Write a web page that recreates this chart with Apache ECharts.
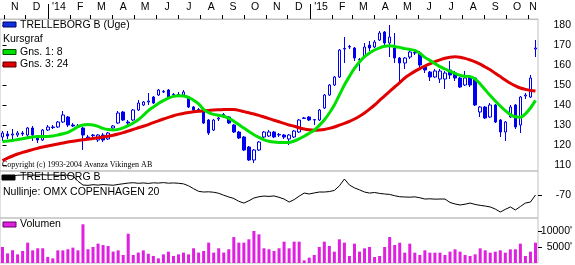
<!DOCTYPE html>
<html><head><meta charset="utf-8">
<script src="https://cdn.jsdelivr.net/npm/echarts@6/dist/echarts.min.js"></script>
<style>html,body{margin:0;padding:0;background:#fff}#c{width:575px;height:265px}</style>
</head><body><div id="c"></div>
<script>
// ---------- data ----------
const DAY = 86400000;
const firstMonday = Date.UTC(2013, 9, 28);
const weekCount = 107;
const weeks = Array.from({length: weekCount}, (_, i) => new Date(firstMonday + i * 7 * DAY).toISOString().slice(0, 10));

const monthLetters = ['J','F','M','A','M','J','J','A','S','O','N','D'];
const priceTicks = [110, 120, 130, 140, 150, 160, 170, 180];
const relTicks = [-70];
const volTicks = [5000, 10000];

const opens = [124,125.5,125,125,126,125,128.5,123.5,122.5,127.5,129,129,131.5,134,130,129.5,128.5,124,125,122.5,
125,123,128.5,131,136.5,131.5,132.5,137.5,140,141.5,144,145,146.5,147.5,145,145.3,145,144,139,137.7,
137.5,132.5,127.5,133,135,134,130,126.5,124,119,112.5,117.5,124,124.5,126.5,125,125,123,124,126.5,
133.5,134,132.5,132.5,138.5,145,150,154,168,169,168.5,162.7,164,170,169,172.5,176.5,171,168.5,163.5,
161,164,166,166,159,156.5,154,153,153,157.5,156,153.5,150,154,153.5,136.5,139,134,140,132.5,
126.5,134,140,130,144.5,144,168];
const closes = [126,124.5,125.5,126,125.5,128.5,125,122.5,127.5,129,128.7,131.5,135,130,129.5,129,125,123.5,124.7,125,
122.5,126,129.5,136,132.5,131,137.5,141,141.5,142,141,147.5,146.8,144,145.3,145,146.5,139,137.5,137.5,
131,126,132.5,133.5,135.3,131,126.5,123.5,117.5,112.5,117.5,121.5,126.5,126.5,124,125.3,124,125,127,132.5,
133.3,132.5,132.7,137.5,145,150,154,167.5,168.3,169.3,163.5,162.5,169,168.5,171.5,176,171,174,163.5,161,
163.5,166.5,166.3,160,157.5,154,157,157,156,155,153.5,149,153.5,150,140,139,133.5,140,131.5,126.5,
131.5,139,129,144,145,153.5,168.5];
const lows = [122,123,121.5,124,124.5,124,122,121,122,127,128,128.5,131,129,129,128.5,117.5,122.5,124,121.5,
121.5,122.5,128,130.5,132,130,132,137,139.5,140,140.5,144.5,146,143.5,144,144,144.5,138.5,137,136.5,
130.5,125,127,132,133.5,130.5,126,123,117,112,111,117,123.5,124,123.5,124,123,120,123.5,126,
133,132,130,132,138,144.5,149.5,153.5,161,168,162,157,163.5,167,168.5,172,170,164,161,152,
158,163,165,158,156,152,153.5,151,148,153,152,148.5,149.5,149,139.5,134,133,133.5,131,124,
122,133.5,128,126,143,143.5,164];
const highs = [127,127,128,127,127,129,129.5,124.5,128,130,130,132,137,134.5,131,130.5,129,125,125.5,125.5,
126,126.5,130,137,137,132.5,138,142.5,142,146,144.5,148,147.5,148,146,146.5,147.5,144.5,139.5,138.5,
138,133,133,134,136,134.5,130.5,127,124.5,119.5,118,122,127,127.5,127,126,125.5,125.5,127.5,133,
134,134.5,133,138,145.5,150.5,154.5,168,174,170,169,163.5,171,172,172.5,177,177,180,176,164,
164,168,167,167,160,157,158,158,157,162,157,154,157,155,154,139.5,139.5,141,140.5,133,
132,140,140.5,144.5,146,155,172.5];

const ma8 = [121.8,122.0,122.3,122.7,123.1,123.6,124.0,124.2,124.3,124.3,124.5,125.0,125.6,126.3,127.6,129.2,130.0,130.2,130.0,129.3,
128.3,127.7,127.5,127.8,128.6,129.7,131.0,132.6,134.8,137.2,139.0,140.8,142.2,143.4,144.3,144.6,144.5,143.8,142.4,140.6,
137.8,136.2,135.3,134.9,134.4,133.3,131.9,130.2,128.5,126.7,125.1,123.8,122.6,121.9,121.5,121.3,121.2,121.3,122.0,123.1,
124.4,125.9,127.4,129.8,132.5,136.0,140.0,145.0,150.0,154.3,158.3,161.5,164.2,166.0,167.5,168.6,169.4,169.6,169.3,168.8,
168.2,167.8,167.3,165.9,163.8,162.3,160.7,159.2,158.0,156.9,155.8,154.8,154.4,154.2,153.0,150.5,147.6,144.7,142.0,139.5,
137.2,135.2,134.1,133.9,135.6,138.5,142.3];
const ma24 = [112.2,113.4,114.5,115.5,116.3,117.0,117.7,118.4,119.0,119.5,120.0,120.5,121.0,121.5,121.9,122.3,122.6,122.9,123.2,123.6,
124.0,124.4,124.9,125.5,126.2,127.0,127.8,128.6,129.4,130.2,131.2,132.1,133.0,133.8,134.6,135.3,135.8,136.2,136.6,136.9,
137.1,137.3,137.5,137.6,137.7,137.8,137.7,137.3,136.7,136.1,135.5,134.8,134.0,133.2,132.4,131.6,130.8,130.0,129.4,128.6,
128.0,127.6,127.4,127.5,127.8,128.3,129.0,129.9,130.8,131.8,133.0,134.4,136.0,137.9,140.0,142.3,144.6,146.8,149.0,151.2,
153.5,155.2,156.8,158.2,159.5,160.6,161.7,162.6,163.4,163.9,164.1,163.9,163.3,162.5,161.6,160.4,159.0,157.6,155.9,154.2,
152.5,150.9,149.6,148.5,147.8,147.3,147.0];

const relative = [-53.5,-53.8,-53.2,-52.8,-52.6,-52.4,-52.8,-52.6,-52.3,-52.7,-52.5,-52.9,-52.6,-52.8,-53.4,-58.0,-61.3,-61.6,-61.0,-61.4,
-60.9,-61.2,-61.5,-60.8,-60.2,-59.6,-59.3,-59.8,-59.5,-59.9,-59.4,-59.6,-59.2,-59.7,-59.5,-59.8,-60.3,-62.0,-64.5,-66.8,
-67.4,-67.2,-67.6,-68.5,-70.2,-71.7,-73.0,-75.5,-77.0,-75.0,-72.6,-71.5,-70.9,-71.2,-70.8,-72.0,-73.5,-76.1,-74.0,-71.0,
-68.3,-69.1,-68.2,-67.4,-67.4,-67.0,-66.0,-62.0,-56.1,-61.3,-63.8,-65.5,-67.4,-68.3,-67.8,-68.6,-69.1,-69.5,-70.6,-71.5,
-71.7,-71.9,-71.6,-72.4,-73.5,-73.3,-73.6,-73.5,-73.5,-76.5,-77.8,-78.7,-78.0,-77.0,-78.2,-79.0,-79.6,-80.4,-82.2,-84.8,
-82.5,-80.4,-83.0,-80.0,-77.0,-76.1,-70.0];

const volume = [5000,3000,4000,2700,3750,6350,3950,4600,4600,1900,1450,3950,3950,4300,4800,3950,12100,4300,5000,6050,
5600,5300,3550,3950,2500,9150,2500,3250,3950,2900,2200,1450,2700,3550,2200,2700,3250,2700,4600,3250,
3750,6350,3250,4600,3250,4300,8100,6350,6350,7400,10000,8950,4600,4300,3750,4600,6667,4583,6667,6667,
833,1667,2500,5000,6667,5313,3542,7396,6354,2188,6042,3542,4583,5000,1875,2188,5000,8125,5625,6354,
3229,6042,3229,2500,3958,3229,3229,3229,2500,3542,4271,3542,2500,2188,2708,4583,3958,3229,3542,3958,
3229,4271,4271,6042,2188,3542,6354];

// ---------- month axis positions (calendar -> week units) ----------
const pos = t => (t - (firstMonday + 2 * DAY)) / (7 * DAY);
const vMin = -0.5, vMax = weekCount - 0.5;
const monthTicks = [], yearTicks = [], monthLabelPos = [], monthLabelText = [];
for (let y = 2013, m = 9; y < 2016;) {
  const ny = m === 11 ? y + 1 : y, nm = (m + 1) % 12;
  const s = pos(Date.UTC(y, m, 1)), e = pos(Date.UTC(ny, nm, 1));
  if (s > vMin && s < vMax) { monthTicks.push(s); if (m === 0) yearTicks.push(s); }
  const a = Math.max(s, vMin), b = Math.min(e, vMax);
  if (b - a >= 1.5) { monthLabelPos.push((a + b) / 2); monthLabelText.push(m === 0 ? "'" + String(y).slice(2) : monthLetters[m]); }
  y = ny; m = nm;
}

// ---------- chart ----------
const FONT = 'Liberation Sans';
const GRAY = '#c0c0c0';
const chart = echarts.init(document.getElementById('c'), null, {renderer: 'canvas'});
const gridBase = {left: 0, right: 37, show: true, borderColor: GRAY, borderWidth: 1, containLabel: false, outerBoundsMode: 'none'};
const hiddenCat = g => ({type: 'category', gridIndex: g, data: weeks, show: false, boundaryGap: true});
const txt = (x, y, s, extra) => ({type: 'text', x: x, y: y, z: 100, style: Object.assign({text: s, fill: '#000', font: '10.5px "' + FONT + '"', verticalAlign: 'middle', align: 'left'}, extra || {})});
const swatch = (x, y, fill, stroke) => ({type: 'rect', shape: {x: x, y: y, width: 13, height: 5}, z: 100, style: {fill: fill, stroke: stroke, lineWidth: 1}});

chart.setOption({
  animation: false,
  backgroundColor: '#fff',
  grid: [
    Object.assign({top: 19, height: 152}, gridBase),
    Object.assign({top: 171, height: 47}, gridBase),
    Object.assign({top: 218, height: 45}, gridBase)
  ],
  xAxis: [
    hiddenCat(0),
    {type: 'value', gridIndex: 0, position: 'top', min: vMin, max: vMax,
     axisLine: {show: true, lineStyle: {color: GRAY}},
     axisTick: {show: true, customValues: monthTicks, length: 4, lineStyle: {color: '#000'}},
     axisLabel: {show: true, customValues: monthLabelPos, margin: 6, color: '#000', fontSize: 10.5, fontFamily: FONT,
       formatter: v => { const k = monthLabelPos.findIndex(p => Math.abs(p - v) < 0.01); return k >= 0 ? monthLabelText[k] : ''; }},
     splitLine: {show: false}},
    {type: 'value', gridIndex: 0, position: 'top', min: vMin, max: vMax,
     axisLine: {show: false},
     axisTick: {show: true, customValues: yearTicks, length: 15, lineStyle: {color: '#000'}},
     axisLabel: {show: false}, splitLine: {show: false}},
    hiddenCat(1),
    hiddenCat(2)
  ],
  yAxis: [
    {type: 'value', gridIndex: 0, position: 'right', min: 107, max: 183,
     axisLine: {show: false}, splitLine: {show: false},
     axisTick: {show: true, customValues: priceTicks, length: 4, lineStyle: {color: '#000'}},
     axisLabel: {customValues: priceTicks, align: 'right', margin: 33, color: '#000', fontSize: 10.5, fontFamily: FONT}},
    {type: 'value', gridIndex: 1, position: 'right', min: -90, max: -49.1,
     axisLine: {show: false}, splitLine: {show: false},
     axisTick: {show: true, customValues: relTicks, length: 4, lineStyle: {color: '#000'}},
     axisLabel: {customValues: relTicks, align: 'right', margin: 33, color: '#000', fontSize: 10.5, fontFamily: FONT}},
    {type: 'value', gridIndex: 2, position: 'right', min: 0, max: 14062,
     axisLine: {show: false}, splitLine: {show: false},
     axisTick: {show: true, customValues: volTicks, length: 4, lineStyle: {color: '#000'}},
     axisLabel: {customValues: volTicks, align: 'right', margin: 34, color: '#000', fontSize: 10.5, fontFamily: FONT,
       formatter: v => v + "'"}}
  ],
  series: [
    {type: 'candlestick', xAxisIndex: 0, yAxisIndex: 0, barWidth: 3, z: 2,
     data: opens.map((o, i) => [o, closes[i], lows[i], highs[i]]),
     itemStyle: {color: '#ffffff', color0: '#0000f0', borderColor: '#0000f0', borderColor0: '#0000f0', borderWidth: 1}},
    {type: 'line', xAxisIndex: 0, yAxisIndex: 0, data: ma24, showSymbol: false, smooth: 0.3, z: 3,
     lineStyle: {color: '#e00000', width: 3}},
    {type: 'line', xAxisIndex: 0, yAxisIndex: 0, data: ma8, showSymbol: false, smooth: 0.3, z: 4,
     lineStyle: {color: '#00e000', width: 3}},
    {type: 'line', xAxisIndex: 3, yAxisIndex: 1, data: relative, showSymbol: false, z: 3,
     lineStyle: {color: '#000', width: 1}},
    {type: 'bar', xAxisIndex: 4, yAxisIndex: 2, data: volume, barWidth: 3, z: 2,
     itemStyle: {color: '#e020e0'}}
  ],
  graphic: [
    swatch(3, 22, '#1030e0', '#000060'),
    txt(20, 25, 'TRELLEBORG B (Uge)'),
    txt(3, 39, 'Kursgraf'),
    swatch(3, 49.5, '#00e000', '#005000'),
    txt(20, 52, 'Gns. 1: 8'),
    swatch(3, 62, '#e00000', '#500000'),
    txt(20, 64.5, 'Gns. 3: 24'),
    txt(2, 165, 'Copyright (c) 1993-2004 Avanza Vikingen AB', {font: '8px "Liberation Serif"'}),
    swatch(2, 175, '#000000', '#000000'),
    txt(20, 177.5, 'TRELLEBORG B'),
    txt(3, 192, 'Nullinje: OMX COPENHAGEN 20'),
    swatch(3, 222, '#e020e0', '#600060'),
    txt(20, 224.5, 'Volumen')
  ]
});
</script>
</body></html>
